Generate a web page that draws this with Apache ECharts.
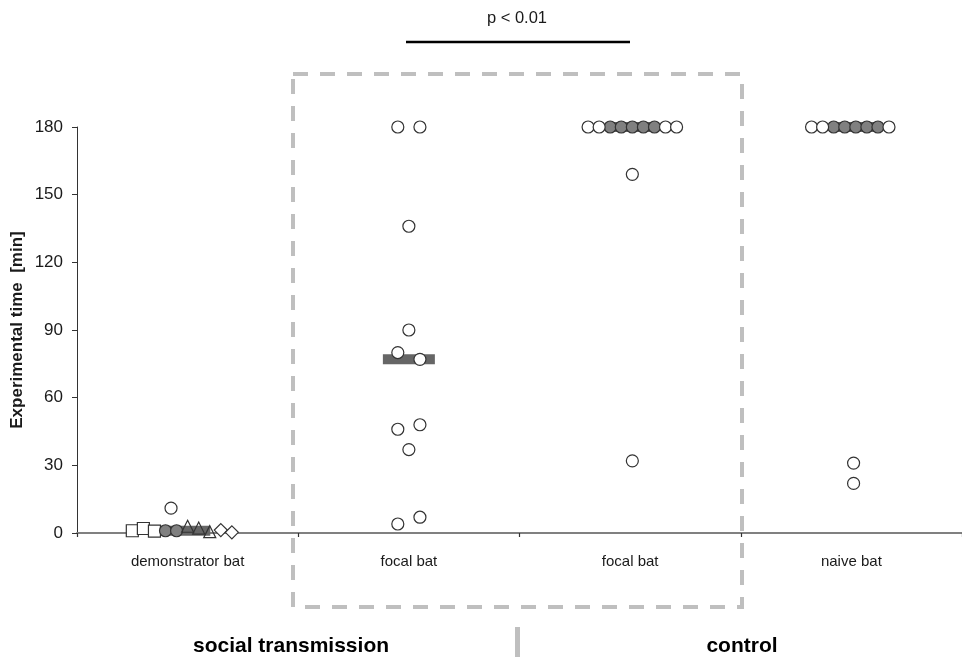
<!DOCTYPE html>
<html>
<head>
<meta charset="utf-8">
<script src="https://cdn.jsdelivr.net/npm/echarts@6/dist/echarts.min.js"></script>
<style>html,body{margin:0;padding:0;background:#fff}#c{width:962px;height:657px}</style>
</head>
<body>
<div id="c"></div>
<script>
// ---- data: [categoryIndex, horizontal slot (jitter), minutes] ----
const categories = ['demonstrator bat', 'focal bat', 'focal bat', 'naive bat'];
const yMin = 0, yMax = 180, yStep = 30;

const medians = [[0, -0.3, 1], [1, 0, 77], [2, 0.25, 180], [3, 0.4, 180]];

const openCircles = [
  [0, -1.5, 11],
  [1, -1, 180], [1, 1, 180], [1, 0, 136], [1, 0, 90], [1, -1, 80], [1, 1, 77],
  [1, -1, 46], [1, 1, 48], [1, 0, 37], [1, -1, 4], [1, 1, 7],
  [2, -3.8, 180], [2, -2.8, 180], [2, 3.2, 180], [2, 4.2, 180], [2, 0.2, 159], [2, 0.2, 32],
  [3, -3.6, 180], [3, -2.6, 180], [3, 3.4, 180], [3, 0.2, 31], [3, 0.2, 22]
];
const greyCircles = [
  [0, -2, 1], [0, -1, 1],
  [2, -1.8, 180], [2, -0.8, 180], [2, 0.2, 180], [2, 1.2, 180], [2, 2.2, 180],
  [3, -1.6, 180], [3, -0.6, 180], [3, 0.4, 180], [3, 1.4, 180], [3, 2.4, 180]
];
const squares = [[0, -5, 1], [0, -4, 2], [0, -3, 0.8]];
const triangles = [[0, 0, 3], [0, 1, 2.2], [0, 2, 0.6]];
const diamonds = [[0, 3, 1.3], [0, 4, 0.3]];

const SLOT = 0.05;
const toXY = d => [d[0] + 0.5 + d[1] * SLOT, d[2]];

const chart = echarts.init(document.getElementById('c'), null, {renderer: 'canvas'});
const font = '"Liberation Sans", Arial, sans-serif';

function pts(name, arr, symbol, size, fill, z) {
  return {
    name, type: 'scatter', xAxisIndex: 1, yAxisIndex: 0,
    data: arr.map(toXY), symbol, symbolSize: size, z: z || 3,
    itemStyle: {color: fill, borderColor: '#333', borderWidth: 1.2, opacity: 1},
    emphasis: {disabled: true}, silent: true
  };
}

chart.setOption({
  animation: false,
  backgroundColor: '#fff',
  grid: {left: 77, right: 0, top: 127, bottom: 124, containLabel: false, outerBoundsMode: 'none'},
  xAxis: [
    {
      type: 'category', data: categories, position: 'bottom',
      axisLine: {lineStyle: {color: '#808080', width: 1.8}},
      axisTick: {show: true, alignWithLabel: false, length: 4, lineStyle: {color: '#333', width: 1.2}},
      axisLabel: {color: '#1a1a1a', fontSize: 15, fontFamily: font, margin: 21},
      splitLine: {show: false}
    },
    {
      type: 'value', min: 0, max: categories.length, show: false,
      splitLine: {show: false}
    }
  ],
  yAxis: [{
    type: 'value', min: yMin, max: yMax, interval: yStep,
    name: 'Experimental time  [min]', nameLocation: 'middle', nameGap: 51,
    nameMoveOverlap: false,
    nameTextStyle: {fontSize: 17, fontWeight: 'bold', color: '#1a1a1a', fontFamily: font},
    axisLine: {show: true, lineStyle: {color: '#333', width: 1}},
    axisTick: {show: true, length: 5, lineStyle: {color: '#333', width: 1}},
    axisLabel: {color: '#1a1a1a', fontSize: 17, fontFamily: font, margin: 14},
    splitLine: {show: false}
  }],
  series: [
    {
      name: 'median', type: 'scatter', xAxisIndex: 1, yAxisIndex: 0,
      data: medians.map(toXY), symbol: 'rect', symbolSize: [52, 10], z: 1,
      itemStyle: {color: '#666666', opacity: 1}, silent: true
    },
    pts('squares', squares, 'rect', 12, '#ffffff'),
    pts('grey', greyCircles, 'circle', 12, '#808080'),
    pts('triangles', triangles, 'triangle', 12, 'rgba(0,0,0,0)'),
    pts('diamonds', diamonds, 'diamond', 13, '#ffffff'),
    pts('open', openCircles, 'circle', 12, '#ffffff', 4)
  ],
  graphic: [
    {type: 'rect', shape: {x: 293, y: 74, width: 449, height: 533}, z: 0,
      style: {fill: 'none', stroke: '#bfbfbf', lineWidth: 4, lineDash: [15, 12]}},
    {type: 'line', shape: {x1: 406, y1: 42, x2: 630, y2: 42},
      style: {stroke: '#000', lineWidth: 2.5}},
    {type: 'text', x: 517, y: 18, style: {text: 'p < 0.01', font: '16.5px ' + font, fill: '#1a1a1a', textAlign: 'center', textVerticalAlign: 'middle'}},
    {type: 'text', x: 291, y: 646, style: {text: 'social transmission', font: 'bold 21px ' + font, fill: '#000', textAlign: 'center', textVerticalAlign: 'middle'}},
    {type: 'text', x: 742, y: 646, style: {text: 'control', font: 'bold 21px ' + font, fill: '#000', textAlign: 'center', textVerticalAlign: 'middle'}},
    {type: 'rect', shape: {x: 515, y: 627, width: 5, height: 30}, style: {fill: '#bfbfbf'}}
  ]
});
</script>
</body>
</html>
